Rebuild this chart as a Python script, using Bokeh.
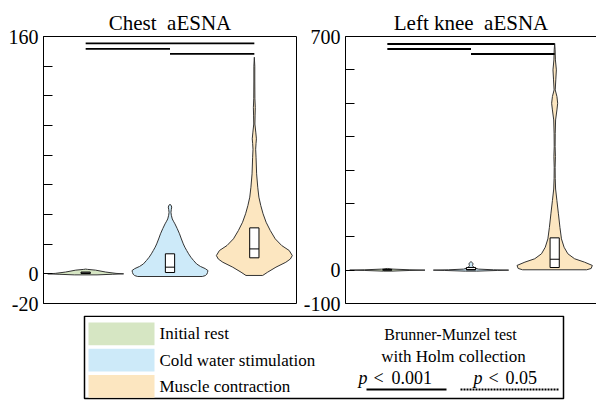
import numpy as np
from bokeh.plotting import figure
from bokeh.models import Range1d, FixedTicker, LinearAxis, Label
from bokeh.layouts import column, row
from bokeh.embed import file_html
from bokeh.resources import INLINE

# ---------------- data ----------------
groups = ["Initial rest", "Cold water stimulation", "Muscle contraction"]
colors = ["#d6e6c3", "#cdeaf9", "#fce6c0"]

# violin profiles (value levels, relative half-widths)
chest_rest_y = [-0.7, -0.3, 0.0, 0.3, 1.2, 2.5, 3.0, 3.2]
chest_rest_w = [0.3, 0.7, 1.0, 0.8, 0.53, 0.26, 0.05, 0.0]
chest_cold_y = [-1.8, -1.2, -0.3, 1.0, 2.2, 3.5, 5.0, 6.7, 9.0, 11.2, 13.5, 15.7, 18.0, 20.2,
                23.5, 27.0, 30.5, 33.7, 35.5, 37.0, 39.5, 41.5, 43.5, 45.0, 46.2, 46.8]
chest_cold_w = [0.85, 0.93, 0.97, 0.99, 1.0, 0.93, 0.8, 0.7, 0.62, 0.55, 0.49, 0.44, 0.39, 0.35,
                0.3, 0.25, 0.19, 0.13, 0.09, 0.06, 0.035, 0.025, 0.035, 0.045, 0.03, 0.0]
chest_musc_y = [-1.1, 1.1, 4.5, 7.8, 10.0, 12.3, 15.7, 19.1, 23.6, 29.2, 34.8, 40.5, 46.0, 51.7,
                58.4, 67.4, 78.6, 84.0, 88.0, 91.0, 95.0, 101.0, 107.0, 112.0, 118.0, 130.0, 140.0, 146.0]
chest_musc_w = [0.22, 0.35, 0.57, 0.83, 0.95, 1.0, 0.92, 0.72, 0.55, 0.42, 0.31, 0.23, 0.17, 0.12,
                0.09, 0.06, 0.045, 0.035, 0.045, 0.055, 0.04, 0.015, 0.02, 0.025, 0.015, 0.012, 0.012, 0.0]

knee_rest_y = [-3.0, -1.0, 0.0, 1.0, 3.0, 5.0]
knee_rest_w = [0.1, 0.6, 1.0, 0.6, 0.15, 0.0]
knee_cold_y = [-3.0, -1.0, 0.0, 1.0, 3.0, 6.0, 10.0, 14.0, 17.0, 20.0, 22.0, 24.0, 25.0]
knee_cold_w = [0.15, 0.7, 1.0, 0.6, 0.2, 0.1, 0.06, 0.04, 0.05, 0.05, 0.04, 0.02, 0.0]
knee_musc_y = [1.0, 5.0, 14.0, 24.0, 34.0, 49.0, 68.6, 93.7, 128.0, 168.6, 208.0, 243.0, 275.0, 308.0,
               340.0, 370.0, 410.0, 450.0, 480.0, 500.0, 520.0, 540.0, 570.0, 600.0, 630.0, 660.0, 679.0]
knee_musc_w = [0.85, 0.97, 1.0, 0.79, 0.53, 0.35, 0.25, 0.18, 0.14, 0.1, 0.06, 0.025, 0.015, 0.012,
               0.02, 0.012, 0.015, 0.025, 0.06, 0.08, 0.06, 0.015, 0.03, 0.045, 0.02, 0.012, 0.0]

# box summaries
chest_q1 = [0.2, 0.9, 10.8]
chest_med = [0.6, 4.5, 16.8]
chest_q3 = [1.2, 13.5, 31.0]
knee_q1 = [0.0, 0.5, 7.8]
knee_med = [0.5, 2.0, 32.6]
knee_q3 = [1.5, 8.0, 96.7]

# significance brackets (group pairs) and their heights
sig_pairs = [(0, 2), (0, 1), (1, 2)]
chest_sig_y = [155.3, 151.7, 148.3]
knee_sig_y = [677.5, 662.5, 647.6]

chest_ticks = [-20, 0, 20, 40, 60, 80, 100, 120, 140, 160]
chest_tick_labels = {-20: "-20", 0: "0", 160: "160"}
knee_ticks = [-100, 0, 100, 200, 300, 400, 500, 600, 700]
knee_tick_labels = {-100: "-100", 0: "0", 700: "700"}

FONT = "Liberation Serif"
HALF = 0.45
BOXHALF = 0.055
PANEL_H = 315


def panel(title, width, yr, ticks, tick_labels, profiles, q1, med, q3, sig_y, full_outline):
    p = figure(width=width, height=PANEL_H, x_range=Range1d(0, 3), y_range=Range1d(*yr),
               output_backend="svg", toolbar_location=None,
               min_border_left=43, min_border_right=(4 if full_outline else 0),
               min_border_top=36, min_border_bottom=PANEL_H - 303)
    p.title.text = title
    p.title.align = "center"
    p.title.text_font = FONT
    p.title.text_font_size = "21px"
    p.title.text_font_style = "normal"
    p.title.text_color = "black"
    p.title.standoff = 4
    p.grid.visible = False
    p.xaxis.visible = False
    ya = p.yaxis[0]
    ya.ticker = FixedTicker(ticks=ticks, minor_ticks=[])
    ya.major_label_overrides = {t: tick_labels.get(t, "") for t in ticks}
    ya.major_tick_in = 9
    ya.major_tick_out = 0
    ya.minor_tick_in = 0
    ya.minor_tick_out = 0
    ya.major_tick_line_color = "black"
    ya.axis_line_color = "black"
    ya.major_label_standoff = 5
    ya.major_label_text_font = FONT
    ya.major_label_text_font_size = "20px"
    ya.major_label_text_color = "black"
    p.background_fill_color = "white"
    p.border_fill_color = "white"
    if full_outline:
        p.outline_line_color = "black"
        p.outline_line_width = 1
    else:
        p.outline_line_color = None
        for side in ("above", "below"):
            ax = LinearAxis(ticker=FixedTicker(ticks=[]), axis_line_color="black",
                            major_tick_in=0, major_tick_out=0, major_label_standoff=0,
                            minor_tick_in=0, minor_tick_out=0)
            p.add_layout(ax, side)

    for i, (ys, ws) in enumerate(profiles):
        c = i + 0.5
        ys = np.asarray(ys, dtype=float)
        ws = np.asarray(ws, dtype=float) * HALF
        xs = np.concatenate([c + ws, (c - ws)[::-1]])
        yy = np.concatenate([ys, ys[::-1]])
        p.patch(xs, yy, fill_color=colors[i], line_color="#333333", line_width=1)

    cx = np.arange(3) + 0.5
    p.quad(left=cx - BOXHALF, right=cx + BOXHALF, bottom=q1, top=q3,
           fill_color="white", line_color="black", line_width=1)
    p.segment(x0=cx - BOXHALF, x1=cx + BOXHALF, y0=med, y1=med, line_color="black", line_width=1)

    x0 = [a + 0.5 for a, b in sig_pairs]
    x1 = [b + 0.5 for a, b in sig_pairs]
    p.segment(x0=x0, x1=x1, y0=sig_y, y1=sig_y, line_color="black", line_width=1.8)
    return p


p1 = panel("Chest \u00a0aESNA", 300, (-20, 160), chest_ticks, chest_tick_labels,
           [(chest_rest_y, chest_rest_w), (chest_cold_y, chest_cold_w), (chest_musc_y, chest_musc_w)],
           chest_q1, chest_med, chest_q3, chest_sig_y, True)
p2 = panel("Left knee \u00a0aESNA", 296, (-100, 700), knee_ticks, knee_tick_labels,
           [(knee_rest_y, knee_rest_w), (knee_cold_y, knee_cold_w), (knee_musc_y, knee_musc_w)],
           knee_q1, knee_med, knee_q3, knee_sig_y, False)

# ---------------- legend panel (page pixel coordinates) ----------------
LEG_H = 401 - PANEL_H
lg = figure(width=596, height=LEG_H, x_range=Range1d(0, 596), y_range=Range1d(401, PANEL_H),
            output_backend="svg", toolbar_location=None,
            min_border_left=0, min_border_right=0, min_border_top=0, min_border_bottom=0)
lg.axis.visible = False
lg.grid.visible = False
lg.outline_line_color = None
lg.quad(left=84, right=563, top=PANEL_H + 0.8, bottom=398, fill_color=None,
        line_color="black", line_width=1.5)
for i, (g, c) in enumerate(zip(groups, colors)):
    top = 322 + i * 26.3
    lg.quad(left=88, right=154, top=top, bottom=top + 22.7, fill_color=c, line_color=None)
    lg.add_layout(Label(x=159, y=top + 11.3, text=g, text_font=FONT, text_font_size="17px",
                        text_baseline="middle", text_align="left", text_color="black"))

lg.add_layout(Label(x=450, y=334, text="Brunner-Munzel test", text_font=FONT, text_font_size="16px",
                    text_baseline="middle", text_align="center", text_color="black"))
lg.add_layout(Label(x=453, y=356, text="with Holm collection", text_font=FONT, text_font_size="17px",
                    text_baseline="middle", text_align="center", text_color="black"))
for xp, xl, xn, num in ((358, 373, 391, "0.001"), (473, 488, 505, "0.05")):
    lg.add_layout(Label(x=xp, y=377, text="p", text_font=FONT, text_font_size="18px",
                        text_font_style="italic", text_baseline="middle", text_align="left",
                        text_color="black"))
    lg.add_layout(Label(x=xl, y=377, text="<", text_font=FONT, text_font_size="18px",
                        text_baseline="middle", text_align="left", text_color="black"))
    lg.add_layout(Label(x=xn, y=377, text=num, text_font=FONT, text_font_size="18px",
                        text_baseline="middle", text_align="left", text_color="black"))
lg.segment(x0=[366], x1=[446], y0=[389], y1=[389], line_color="black", line_width=2)
lg.segment(x0=[460], x1=[559], y0=[389], y1=[389], line_color="black", line_width=2.2, line_dash="2 1")

layout = column(row(p1, p2), lg)
open("out.html", "w").write(file_html(layout, INLINE))
